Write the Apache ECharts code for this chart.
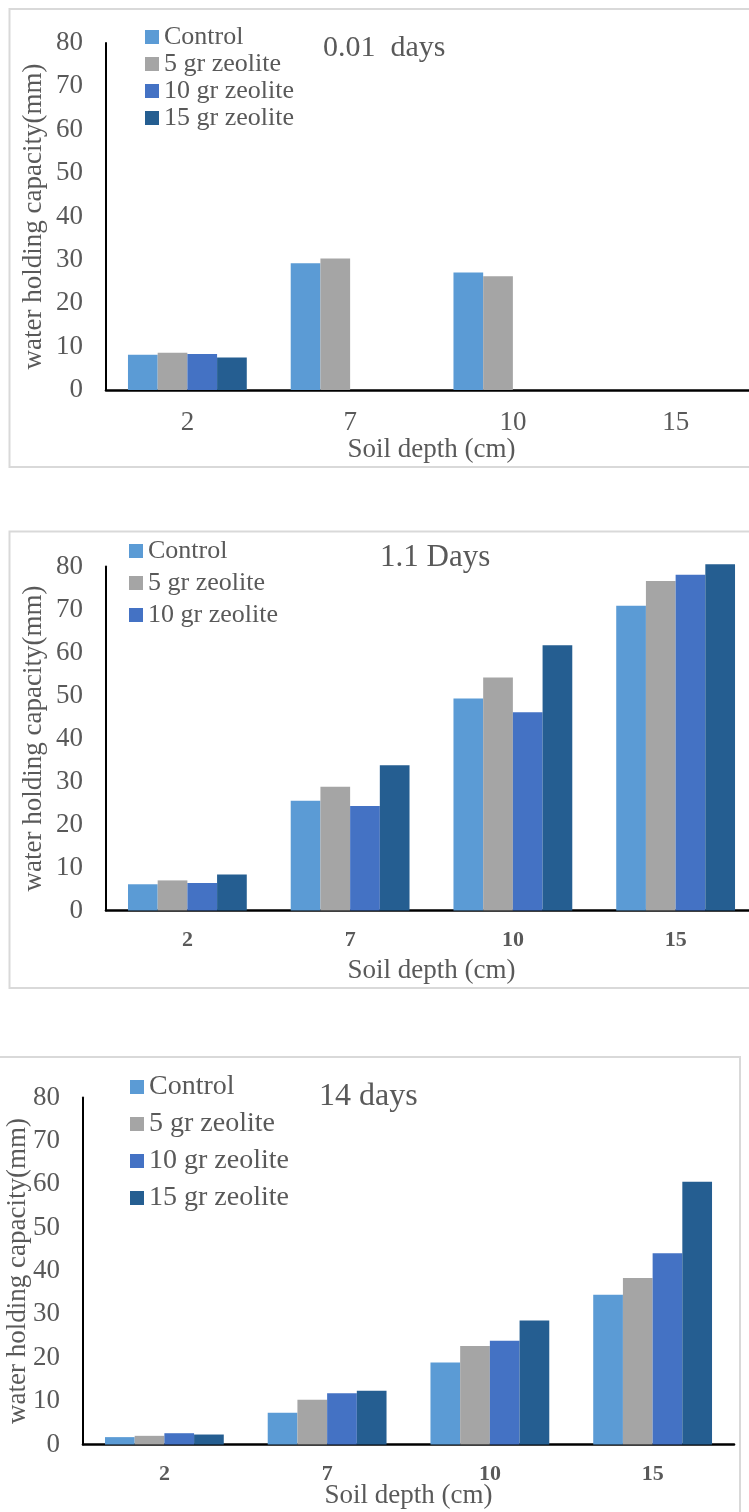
<!DOCTYPE html>
<html>
<head>
<meta charset="utf-8">
<script src="https://cdn.jsdelivr.net/npm/echarts@6/dist/echarts.min.js"></script>
<style>
  html, body { margin: 0; padding: 0; background: #ffffff; }
  #chart { width: 749px; height: 1512px; }
</style>
</head>
<body>
<div id="chart"></div>
<script>
// ---------- data ----------
const categories = ['2', '7', '10', '15'];
const seriesNames = ['Control', '5 gr zeolite', '10 gr zeolite', '15 gr zeolite'];
const panelTitles = ['0.01  days', '1.1 Days', '14 days'];
const xAxisTitle = 'Soil depth (cm)';
const yAxisTitle = 'water holding capacity(mm)';

// 0.01 days
const day001Control = [8.1, 29.2, 27.1, null];
const day001Zeo5    = [8.6, 30.3, 26.2, null];
const day001Zeo10   = [8.3, null, null, null];
const day001Zeo15   = [7.5, null, null, null];

// 1.1 days
const day11Control = [6.1, 25.5, 49.3, 70.9];
const day11Zeo5    = [7.0, 28.8, 54.2, 76.6];
const day11Zeo10   = [6.4, 24.3, 46.1, 78.1];
const day11Zeo15   = [8.4, 33.8, 61.7, 80.5];

// 14 days
const day14Control = [1.7, 7.3, 18.9, 34.5];
const day14Zeo5    = [2.0, 10.3, 22.7, 38.4];
const day14Zeo10   = [2.6, 11.8, 23.9, 44.1];
const day14Zeo15   = [2.3, 12.4, 28.6, 60.6];

const panelData = [
  [day001Control, day001Zeo5, day001Zeo10, day001Zeo15],
  [day11Control, day11Zeo5, day11Zeo10, day11Zeo15],
  [day14Control, day14Zeo5, day14Zeo10, day14Zeo15]
];
const legendItems = [
  seriesNames,
  seriesNames.slice(0, 3),
  seriesNames
];

// ---------- style / layout ----------
const FONT = 'Liberation Serif';
const TXT = '#595959';
const barColors = ['#5B9BD5', '#A5A5A5', '#4472C4', '#255E91'];

const layout = [
  { grid: {left: 106, top: 43, width: 651, height: 347},
    xLabel: {size: 27, bold: false, margin: 19}, xNameGap: 46, yNameGap: 59,
    legend: {left: 145, top: 24, gap: 1, size: 26},
    title: {left: 323, top: 33, size: 30},
    border: {x: 9.5, y: 9, w: 780, h: 458} },
  { grid: {left: 106, top: 566.5, width: 651, height: 344},
    xLabel: {size: 22, bold: true, margin: 19}, xNameGap: 47, yNameGap: 59,
    legend: {left: 129, top: 538, gap: 6, size: 26},
    title: {left: 380, top: 542, size: 31},
    border: {x: 9.5, y: 531.5, w: 780, h: 456.5} },
  { grid: {left: 83, top: 1097.5, width: 651, height: 347},
    xLabel: {size: 22, bold: true, margin: 19}, xNameGap: 38, yNameGap: 52,
    legend: {left: 130, top: 1073, gap: 9, size: 28},
    title: {left: 319, top: 1081, size: 32},
    border: {x: -20, y: 1057, w: 760, h: 520} }
];

const grids = [], xAxes = [], yAxes = [], legends = [], titles = [], series = [], graphics = [];

layout.forEach((L, p) => {
  grids.push(Object.assign({containLabel: false, outerBoundsMode: 'none'}, L.grid));
  xAxes.push({
    type: 'category', gridIndex: p, data: categories,
    boundaryGap: true,
    axisLine: {show: true, onZero: false, lineStyle: {color: '#000', width: 2.6}},
    axisTick: {show: false},
    axisLabel: {fontFamily: FONT, fontSize: L.xLabel.size, fontWeight: L.xLabel.bold ? 'bold' : 'normal',
                color: TXT, margin: L.xLabel.margin},
    name: xAxisTitle, nameLocation: 'middle', nameGap: L.xNameGap, nameMoveOverlap: false,
    nameTextStyle: {fontFamily: FONT, fontSize: 27, color: TXT},
    splitLine: {show: false}
  });
  yAxes.push({
    type: 'value', gridIndex: p, min: 0, max: 80, interval: 10,
    axisLine: {show: true, lineStyle: {color: '#000', width: 2}},
    axisTick: {show: false},
    splitLine: {show: false},
    axisLabel: {fontFamily: FONT, fontSize: 27, color: TXT, margin: 23},
    name: yAxisTitle, nameLocation: 'middle', nameGap: L.yNameGap, nameMoveOverlap: false,
    nameTextStyle: {fontFamily: FONT, fontSize: 27, color: TXT}
  });
  legends.push({
    orient: 'vertical', left: L.legend.left, top: L.legend.top, padding: 0,
    itemWidth: 14, itemHeight: 14, itemGap: L.legend.gap, itemTextGap: 6,
    icon: 'rect', selectedMode: false,
    data: legendItems[p],
    textStyle: {fontFamily: FONT, fontSize: L.legend.size, color: TXT}
  });
  titles.push({
    text: panelTitles[p], left: L.title.left, top: L.title.top, padding: 0,
    textStyle: {fontFamily: FONT, fontSize: L.title.size, fontWeight: 'normal', color: TXT}
  });
  panelData[p].forEach((vals, s) => {
    series.push({
      type: 'bar', name: seriesNames[s], xAxisIndex: p, yAxisIndex: p,
      data: vals, barGap: '0%', barCategoryGap: '27%', clip: false,
      itemStyle: {color: barColors[s]},
      emphasis: {disabled: true}
    });
  });
  graphics.push({
    type: 'rect', silent: true, z: -10,
    shape: {x: L.border.x, y: L.border.y, width: L.border.w, height: L.border.h},
    style: {fill: 'none', stroke: '#d9d9d9', lineWidth: 2}
  });
});

const chart = echarts.init(document.getElementById('chart'), null, {renderer: 'canvas'});
chart.setOption({
  animation: false,
  backgroundColor: '#ffffff',
  color: barColors,
  title: titles,
  legend: legends,
  grid: grids,
  xAxis: xAxes,
  yAxis: yAxes,
  series: series,
  graphic: graphics
});
</script>
</body>
</html>
